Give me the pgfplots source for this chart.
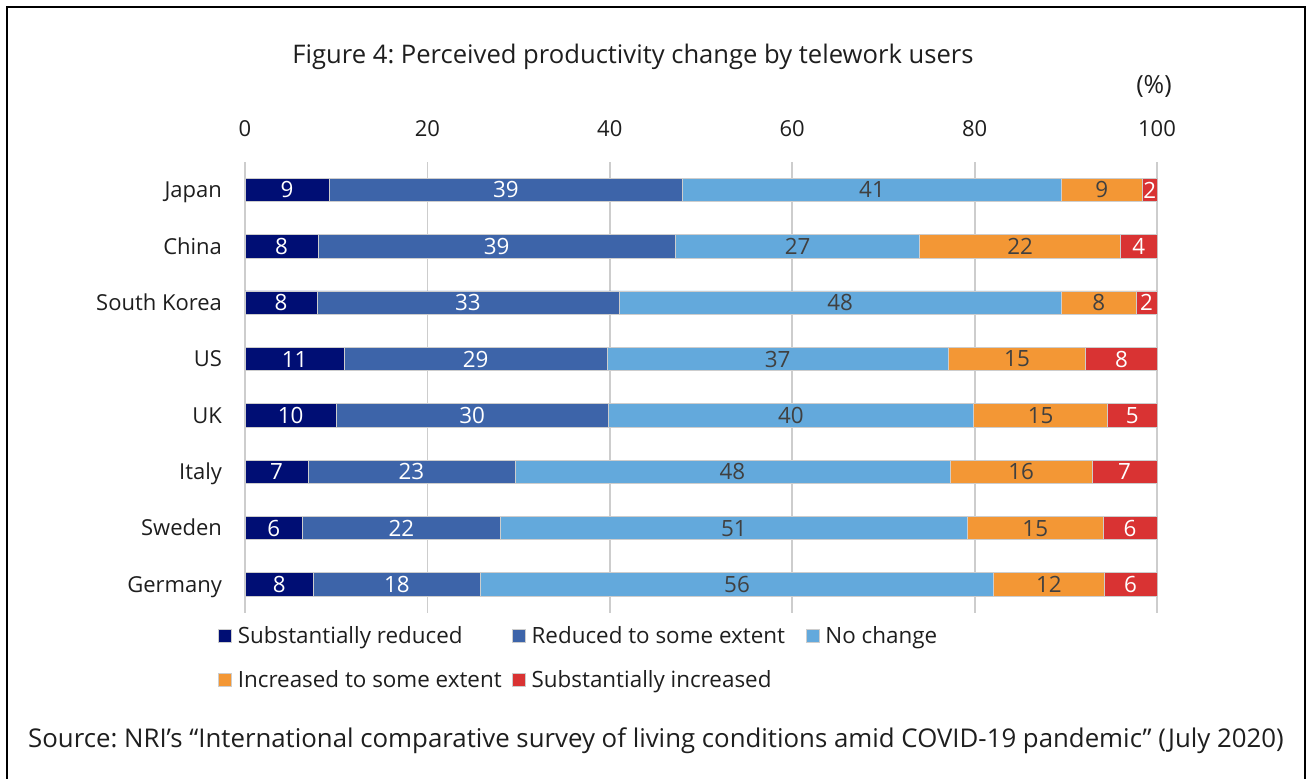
\documentclass[border=0pt]{standalone}
\usepackage{pgfplots}
\pgfplotsset{compat=1.18}
\usepackage{pgfplotstable}
\usepackage{fontspec}
\setmainfont{Open Sans}
\frenchspacing
\definecolor{cA}{RGB}{0,14,116}
\definecolor{cB}{RGB}{61,100,169}
\definecolor{cC}{RGB}{99,169,220}
\definecolor{cD}{RGB}{243,151,53}
\definecolor{cE}{RGB}{217,51,51}
\definecolor{txt}{RGB}{30,30,30}
\definecolor{lbl}{RGB}{64,64,64}
\definecolor{gridc}{RGB}{205,205,205}

\pgfplotstableread{
y a b c d e la lb lc ld le
7 9.2 38.8 41.5 8.9 1.6 9 39 41 9 2
6 8.0 39.2 26.8 22.0 4.0 8 39 27 22 4
5 7.9 33.1 48.5 8.2 2.3 8 33 48 8 2
4 10.9 28.8 37.4 15.1 7.8 11 29 37 15 8
3 10.0 29.8 40.1 14.7 5.4 10 30 40 15 5
2 6.9 22.7 47.7 15.6 7.1 7 23 48 16 7
1 6.3 21.7 51.2 14.9 5.9 6 22 51 15 6
0 7.5 18.3 56.3 12.1 5.8 8 18 56 12 6
}\data

\newcommand{\lfont}{\fontsize{11}{13}\selectfont}
\newcommand{\gfont}{\fontsize{11.2}{13}\selectfont}
\newcommand{\lentry}[1]{\makebox[135pt][l]{#1}}

\begin{document}
\begin{tikzpicture}
\useasboundingbox (0pt,0pt) rectangle (654.5pt,-389pt);
\draw[line width=0.8pt] (3.5pt,-400pt) -- (3.5pt,-3.5pt) -- (652.5pt,-3.5pt) -- (652.5pt,-400pt);
\node[font=\fontsize{12.8}{15}\selectfont, text=txt] at (316.5pt,-28.5pt) {Figure 4: Perceived productivity change by telework users};
\node[font=\fontsize{12.5}{15}\selectfont, text=txt] at (577pt,-43pt) {(\%)};
\node[font=\fontsize{12.9}{15}\selectfont, text=txt] at (328pt,-370.5pt) {Source: NRI’s “International comparative survey of living conditions amid COVID-19 pandemic” (July 2020)};

\begin{axis}[
  at={(122.5pt,-306.35pt)}, anchor=south west,
  width=456pt, height=225.5pt, scale only axis,
  xbar stacked, bar width=11.7pt,
  xmin=0, xmax=100, ymin=-0.5, ymax=7.5,
  ytick={0,...,7},
  yticklabels={Germany,Sweden,Italy,UK,US,South Korea,China,Japan},
  xtick={0,20,...,100}, xticklabel pos=right,
  axis line style={draw=none}, major tick length=0pt,
  xmajorgrids, ymajorgrids=false,
  grid style={gridc, line width=0.9pt},
  /pgf/number format/assume math mode=true,
  tick label style={font=\lfont, text=txt},
  xticklabel style={yshift=9pt},
  yticklabel style={anchor=base east, xshift=-8pt, yshift=-3.9pt},
  every axis plot/.append style={draw=gridc, line width=0.4pt},
  legend style={draw=none, fill=none, inner sep=0pt,
    at={(axis description cs:-0.03,-0.02)}, anchor=north west,
    font=\gfont, text=txt, legend columns=3,
    /tikz/every even column/.append style={column sep=0pt},
    row sep=8pt},
  legend cell align=left,
  legend image code/.code={\fill[#1] (0pt,-3.25pt) rectangle (6.5pt,3.25pt); \path (7.5pt,0pt);},
]
\addplot[fill=cA] table[x=a,y=y]{\data};
\addplot[fill=cB] table[x=b,y=y]{\data};
\addplot[fill=cC] table[x=c,y=y]{\data};
\addplot[fill=cD] table[x=d,y=y]{\data};
\addplot[fill=cE] table[x=e,y=y]{\data};
\legend{\lentry{Substantially reduced},\lentry{Reduced to some extent},\lentry{No change},\lentry{Increased to some extent},\lentry{Substantially increased}}
\end{axis}

\begin{axis}[
  at={(122.5pt,-306.35pt)}, anchor=south west,
  width=456pt, height=225.5pt, scale only axis,
  xmin=0, xmax=100, ymin=-0.5, ymax=7.5, hide axis,
  point meta=explicit symbolic,
  nodes near coords,
  every node near coord/.append style={anchor=center, font=\gfont},
]
\addplot[draw=none, mark=none, nodes near coords style={text=white}] table[x expr=\thisrow{a}/2, y=y, meta=la]{\data};
\addplot[draw=none, mark=none, nodes near coords style={text=white}] table[x expr=\thisrow{a}+\thisrow{b}/2, y=y, meta=lb]{\data};
\addplot[draw=none, mark=none, nodes near coords style={text=lbl}] table[x expr=\thisrow{a}+\thisrow{b}+\thisrow{c}/2, y=y, meta=lc]{\data};
\addplot[draw=none, mark=none, nodes near coords style={text=lbl}] table[x expr=\thisrow{a}+\thisrow{b}+\thisrow{c}+\thisrow{d}/2, y=y, meta=ld]{\data};
\addplot[draw=none, mark=none, nodes near coords style={text=white}] table[x expr=\thisrow{a}+\thisrow{b}+\thisrow{c}+\thisrow{d}+\thisrow{e}/2, y=y, meta=le]{\data};
\end{axis}
\end{tikzpicture}
\end{document}
